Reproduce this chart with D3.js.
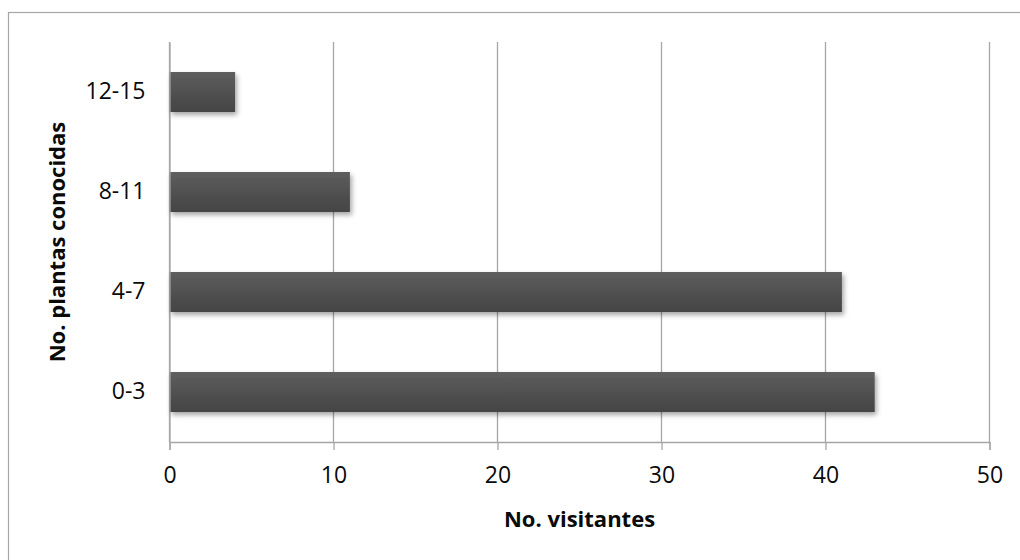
<!DOCTYPE html>
<html><head><meta charset="utf-8">
<script src="https://cdn.jsdelivr.net/npm/d3@7"></script>
<style>
html,body{margin:0;padding:0;background:#fff;}
svg{display:block;font-family:"Open Sans",sans-serif;}
</style></head>
<body><svg id="c" width="1020" height="560"></svg>
<script>
const categories = ["0-3", "4-7", "8-11", "12-15"];
const values = [43, 41, 11, 4];
const xTicks = [0, 10, 20, 30, 40, 50];
const xTitle = "No. visitantes";
const yTitle = "No. plantas conocidas";

const svg = d3.select("#c");
const m = {left: 169.5, right: 989.5, top: 42, bottom: 442};

svg.append("rect").attr("x", 8.5).attr("y", 12.5).attr("width", 1100).attr("height", 700)
  .attr("fill", "#fff").attr("stroke", "#a6a6a6").attr("stroke-width", 1.2);

const defs = svg.append("defs");
const g = defs.append("linearGradient").attr("id", "bg").attr("x1", 0).attr("y1", 0).attr("x2", 0).attr("y2", 1);
g.append("stop").attr("offset", "0%").attr("stop-color", "#5e5e5e");
g.append("stop").attr("offset", "100%").attr("stop-color", "#444444");
const f = defs.append("filter").attr("id", "sh").attr("x", "-10%").attr("y", "-30%").attr("width", "130%").attr("height", "180%");
f.append("feDropShadow").attr("dx", 2).attr("dy", 3).attr("stdDeviation", 2.5).attr("flood-color", "#000").attr("flood-opacity", 0.35);

const x = d3.scaleLinear().domain([0, 50]).range([m.left, m.right]);
const y = d3.scaleBand().domain(categories.slice().reverse()).range([m.top, m.bottom]).paddingInner(0.6).paddingOuter(0.3);

// gridlines
svg.append("g").selectAll("line").data(xTicks).join("line")
  .attr("x1", d => x(d)).attr("x2", d => x(d)).attr("y1", m.top).attr("y2", m.bottom)
  .attr("stroke", "#a6a6a6").attr("stroke-width", 1.3);

// bars
svg.append("g").selectAll("rect").data(categories).join("rect")
  .attr("x", x(0)).attr("y", d => y(d))
  .attr("width", (d, i) => x(values[i]) - x(0)).attr("height", y.bandwidth())
  .attr("fill", "url(#bg)").attr("filter", "url(#sh)");

// x axis
const xa = svg.append("g").attr("transform", `translate(0,${m.bottom})`)
  .call(d3.axisBottom(x).tickValues(xTicks).tickSize(8).tickPadding(17));
xa.select(".domain").attr("stroke", "#a6a6a6").attr("stroke-width", 1.3);
xa.selectAll(".tick line").attr("stroke", "#a6a6a6").attr("stroke-width", 1.3);
xa.selectAll("text").attr("font-size", 23).attr("fill", "#0a0a0a").attr("font-family", "'Open Sans',sans-serif");

// y axis
const ya = svg.append("g").attr("transform", `translate(${m.left},0)`)
  .call(d3.axisLeft(y).tickSize(0).tickPadding(24));
ya.select(".domain").attr("stroke", "#a6a6a6").attr("stroke-width", 1.3);
ya.selectAll("text").attr("font-size", 23).attr("fill", "#0a0a0a").attr("font-family", "'Open Sans',sans-serif");

svg.append("text").attr("x", (m.left + m.right) / 2).attr("y", 527)
  .attr("text-anchor", "middle").attr("font-size", 22).attr("font-weight", "bold").attr("fill", "#0a0a0a")
  .text(xTitle);
svg.append("text").attr("transform", `translate(65,${(m.top + m.bottom) / 2}) rotate(-90)`)
  .attr("text-anchor", "middle").attr("font-size", 22).attr("font-weight", "bold").attr("fill", "#0a0a0a")
  .text(yTitle);
</script></body></html>
